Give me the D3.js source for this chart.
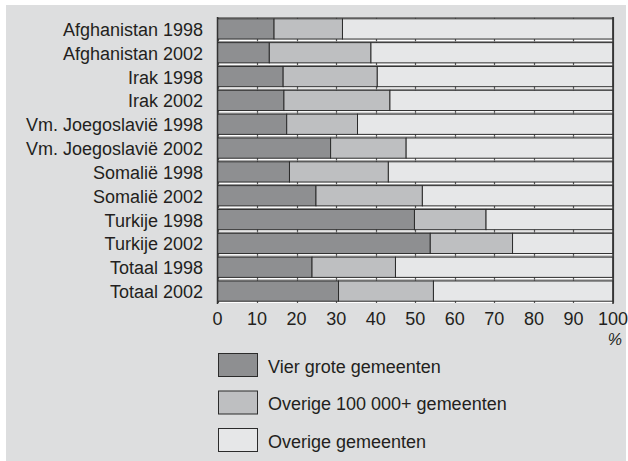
<!DOCTYPE html>
<html lang="nl">
<head>
<meta charset="utf-8">
<title>Gemeenten</title>
<script src="https://d3js.org/d3.v7.min.js"></script>
<style>
  body { margin: 0; background: #fff; }
  text { font-family: "Liberation Sans", Arial, sans-serif; fill: #231f20; }
</style>
</head>
<body>
<script>
var categories = ['Afghanistan 1998', 'Afghanistan 2002', 'Irak 1998', 'Irak 2002',
    'Vm. Joegoslavië 1998', 'Vm. Joegoslavië 2002', 'Somalië 1998', 'Somalië 2002',
    'Turkije 1998', 'Turkije 2002', 'Totaal 1998', 'Totaal 2002'];
var seriesNames = ['Vier grote gemeenten', 'Overige 100 000+ gemeenten', 'Overige gemeenten'];
var vierGrote = [14.3, 13.1, 16.6, 16.8, 17.5, 28.6, 18.2, 24.9, 49.8, 53.8, 23.9, 30.6];
var overige100k = [17.3, 25.7, 23.8, 26.8, 17.9, 19.1, 25.0, 26.9, 18.1, 20.8, 21.1, 24.0];
var overige = [68.4, 61.2, 59.6, 56.4, 64.6, 52.3, 56.8, 48.2, 32.1, 25.4, 55.0, 45.4];
var xTicks = [0, 10, 20, 30, 40, 50, 60, 70, 80, 90, 100];
var colors = ['#8e8f91', '#bebfc1', '#e6e7e8'];

var W = 628, H = 461;
var svg = d3.select('body').append('svg').attr('width', W).attr('height', H);

// grey panel
svg.append('rect').attr('x', 6).attr('y', 5).attr('width', 620).attr('height', H - 5)
    .style('fill', '#dddedf');

var x = d3.scaleLinear().domain([0, 100]).range([217.5, 613]);
var y = d3.scaleBand().domain(categories).range([17, 303]).paddingInner(0.15).paddingOuter(0.075);

var rows = categories.map(function (c, i) {
    return { cat: c, s0: vierGrote[i], s1: overige100k[i], s2: overige[i] };
});
var stack = d3.stack().keys(['s0', 's1', 's2']);
var layers = stack(rows);

// plot background + grid ticks between bars
svg.append('rect').attr('x', x(0)).attr('y', 17).attr('width', x(100) - x(0)).attr('height', 286)
    .style('fill', '#fff');
svg.append('line').attr('x1', x(0)).attr('x2', x(100)).attr('y1', 17.5).attr('y2', 17.5)
    .style('stroke', '#777').style('stroke-width', 1);
svg.selectAll('line.grid').data(xTicks).enter().append('line')
    .attr('class', 'grid')
    .attr('x1', function (d) { return Math.round(x(d)) + 0.5; })
    .attr('x2', function (d) { return Math.round(x(d)) + 0.5; })
    .attr('y1', 17).attr('y2', 303)
    .style('stroke', '#555').style('stroke-width', 1.2);

// gray line under each gap
svg.selectAll('line.gap').data(categories).enter().append('line')
    .attr('class', 'gap')
    .attr('x1', x(0)).attr('x2', x(100))
    .attr('y1', function (d) { return y(d) - 1; })
    .attr('y2', function (d) { return y(d) - 1; })
    .style('stroke', '#888').style('stroke-width', 1);

svg.selectAll('g.layer').data(layers).enter().append('g')
    .attr('class', 'layer')
    .style('fill', function (d, i) { return colors[i]; })
    .selectAll('rect').data(function (d) { return d; }).enter().append('rect')
    .attr('x', function (d) { return x(d[0]); })
    .attr('y', function (d) { return y(d.data.cat); })
    .attr('width', function (d) { return x(d[1]) - x(d[0]); })
    .attr('height', y.bandwidth())
    .style('stroke', '#2b2b2b').style('stroke-width', 1);

// frame ends
svg.append('line').attr('x1', x(0)).attr('x2', x(0)).attr('y1', 17).attr('y2', 304)
    .style('stroke', '#333').style('stroke-width', 1.5);
svg.append('line').attr('x1', x(100)).attr('x2', x(100)).attr('y1', 17).attr('y2', 304)
    .style('stroke', '#333').style('stroke-width', 1.5);

// category labels
svg.selectAll('text.cat').data(categories).enter().append('text')
    .attr('class', 'cat')
    .attr('x', 203)
    .attr('y', function (d) { return y(d) + y.bandwidth() / 2 + 7; })
    .attr('text-anchor', 'end')
    .style('font-size', '18px')
    .text(function (d) { return d; });

// x tick labels
svg.selectAll('text.tick').data(xTicks).enter().append('text')
    .attr('class', 'tick')
    .attr('x', function (d) { return x(d); })
    .attr('y', 325)
    .attr('text-anchor', 'middle')
    .style('font-size', '18px')
    .text(function (d) { return d; });
svg.append('text').attr('x', 622).attr('y', 345).attr('text-anchor', 'end')
    .style('font-size', '16px').style('font-style', 'italic').text('%');

// legend
var legend = svg.selectAll('g.legend').data(seriesNames).enter().append('g')
    .attr('class', 'legend')
    .attr('transform', function (d, i) { return 'translate(218,' + (353 + i * 37.5) + ')'; });
legend.append('rect').attr('x', 0.5).attr('y', 0.5).attr('width', 39).attr('height', 23)
    .style('fill', function (d, i) { return colors[i]; })
    .style('stroke', '#2b2b2b').style('stroke-width', 1);
legend.append('text').attr('x', 50).attr('y', 19.5)
    .style('font-size', '18px')
    .text(function (d) { return d; });
</script>
</body>
</html>
